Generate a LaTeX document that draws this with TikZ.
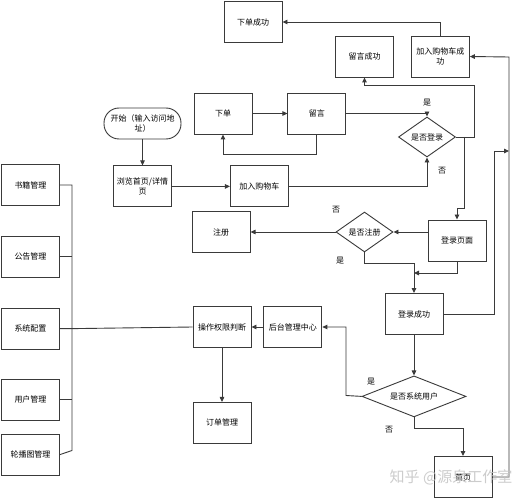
\documentclass[tikz,border=0pt]{standalone}
\usepackage{fontspec}
\newfontfamily\cjk{Noto Sans CJK SC}
\usepackage{tikz}
\usetikzlibrary{shapes.geometric,arrows.meta,positioning}
\definecolor{lineg}{HTML}{3A3A3A}
\definecolor{wmark}{HTML}{C4C4C4}
\tikzset{
  proc/.style={rectangle, draw=lineg, line width=0.9pt, fill=white,
    font=\cjk\fontsize{8}{10}\selectfont, align=center,
    minimum width=58pt, minimum height=41pt, inner sep=1pt},
  term/.style={proc, rounded corners=15pt, minimum width=77pt, minimum height=31pt},
  judge/.style={diamond, draw=lineg, line width=0.9pt, fill=white,
    font=\cjk\fontsize{8}{10}\selectfont, inner sep=0pt, aspect=1.4,
    minimum width=57pt, minimum height=40pt},
  flow/.style={-{Triangle[length=5pt,width=4.5pt]}, draw=lineg, line width=0.9pt},
  link/.style={draw=lineg, line width=0.9pt},
  yn/.style={font=\cjk\fontsize{8}{10}\selectfont}
}
\begin{document}
\begin{tikzpicture}[x=1pt,y=-1pt]
    \fill[white] (0,0) rectangle (531,500);
    \useasboundingbox (0,0) rectangle (531,500);
    % top row
    \node[proc] (xdcg) at (253,22) {下单成功};
    \node[proc] (lycg) at (364.5,56.5) {留言成功};
    \node[proc,right=17pt of lycg] (jrcg) {加入购物车成\\功};
    \node[proc] (xd) at (223,113.5) {下单};
    \node[proc,right=35pt of xd] (ly) {留言};
    \node[term] (start) at (142.5,123.5) {开始（输入访问地\\址）};
    \node[judge] (sfdl) at (427,137) {是否登录};
    \node[proc,below=26pt of start] (llsy) {浏览首页/详情\\页};
    \node[proc,right=58pt of llsy] (jrgwc) {加入购物车};
    % left column
    \node[proc] (sjgl) at (30.5,185) {书籍管理};
    \node[proc,below=30pt of sjgl] (gggl) {公告管理};
    \node[proc,below=30pt of gggl] (xtpz) {系统配置};
    \node[proc,below=29pt of xtpz] (yhgl) {用户管理};
    \node[proc,below=13pt of yhgl] (lbt) {轮播图管理};
    % login part
    \node[proc] (dlym) at (457,240.5) {登录页面};
    \node[judge] (sfzc) at (364.5,232) {是否注册};
    \node[proc,left=85pt of sfzc] (zc) {注册};
    \node[proc] (dlcg) at (414,314) {登录成功};
    \node[judge,below=40.5pt of dlcg,aspect=2.5,minimum width=104pt,minimum height=41pt] (sfxt) {是否系统用户};
    \node[proc] (sy) at (463,477) {首页};
    % back office
    \node[proc] (czqx) at (222,327) {操作权限判断};
    \node[proc,right=12pt of czqx] (htgl) {后台管理中心};
    \node[proc,below=54pt of czqx] (ddgl) {订单管理};
    % yes / no labels
    \node[yn] (y1) at (427,103) {是};
    \node[yn] (n1) at (442,171) {否};
    \node[yn] (n2) at (336,210) {否};
    \node[yn] (y2) at (340,261) {是};
    \node[yn] (y3) at (371,382) {是};
    \node[yn] (n3) at (389,430) {否};
    \coordinate (c1) at (474,85);
    \coordinate (c2) at (464,208);
    \coordinate (c3) at (414,263);
    \coordinate (c4) at (414,273);
    \coordinate (c5) at (346,395.5);
    \coordinate (c7) at (509,57);
    \coordinate (c8) at (494,151);
    \coordinate (bt) at (72,185);
    \coordinate (bb) at (72,450.5);
    % connectors
    \draw[flow] (start)--(llsy);\draw[flow] (llsy)--(jrgwc);\draw[flow] (xd)--(ly);
    \draw[flow] (jrgwc) -| (sfdl);
    \draw[flow] (ly.south) -- ++(0,20) -| (xd.south);
    \draw[flow] (ly) -| (sfdl);
    \draw[flow] (sfdl.east) -| (c1) -| (lycg.south);
    \draw[flow] (c2 |- sfdl.east) -- (c2) -| (dlym.north);
    \draw[flow] (jrcg.north) |- (xdcg.east);
    \draw[flow] (dlym.west |- sfzc.east) -- (sfzc.east);
    \draw[flow] (sfzc.west) -- (zc.east);
    \draw[flow] (sfzc.south) |- (c3) -- (dlcg.north);
    \draw[flow] (dlym.south) |- (c4);
    \draw[flow] (dlcg) -- (sfxt);
    \draw[flow] (sfxt.west) -- (c5) |- (htgl.east);
    \draw[flow] (sfxt.south) -- ++(0,11) -| (sy.north);
    \draw[flow] (sy.east) -| (c7) -- (jrcg.east);
    \draw[flow] (dlcg.east) -| (c8) -- (c8 -| c7);
    \draw[flow] (htgl)--(czqx);\draw[flow] (czqx)--(ddgl);
    \draw[link] (czqx.west) -- (xtpz.east);
    \draw[link] (sjgl.east) -- (bt) -- (bb) -- (lbt.east);
    \foreach \n in {gggl,xtpz,yhgl} \draw[link] (\n.east) -- (\n.east -| bt);
    % watermark
    \node[font=\cjk\fontsize{15}{15}\selectfont, text=wmark, opacity=0.85] (wm) at (451,477) {知乎 @源泉工作室};
\end{tikzpicture}
\end{document}
